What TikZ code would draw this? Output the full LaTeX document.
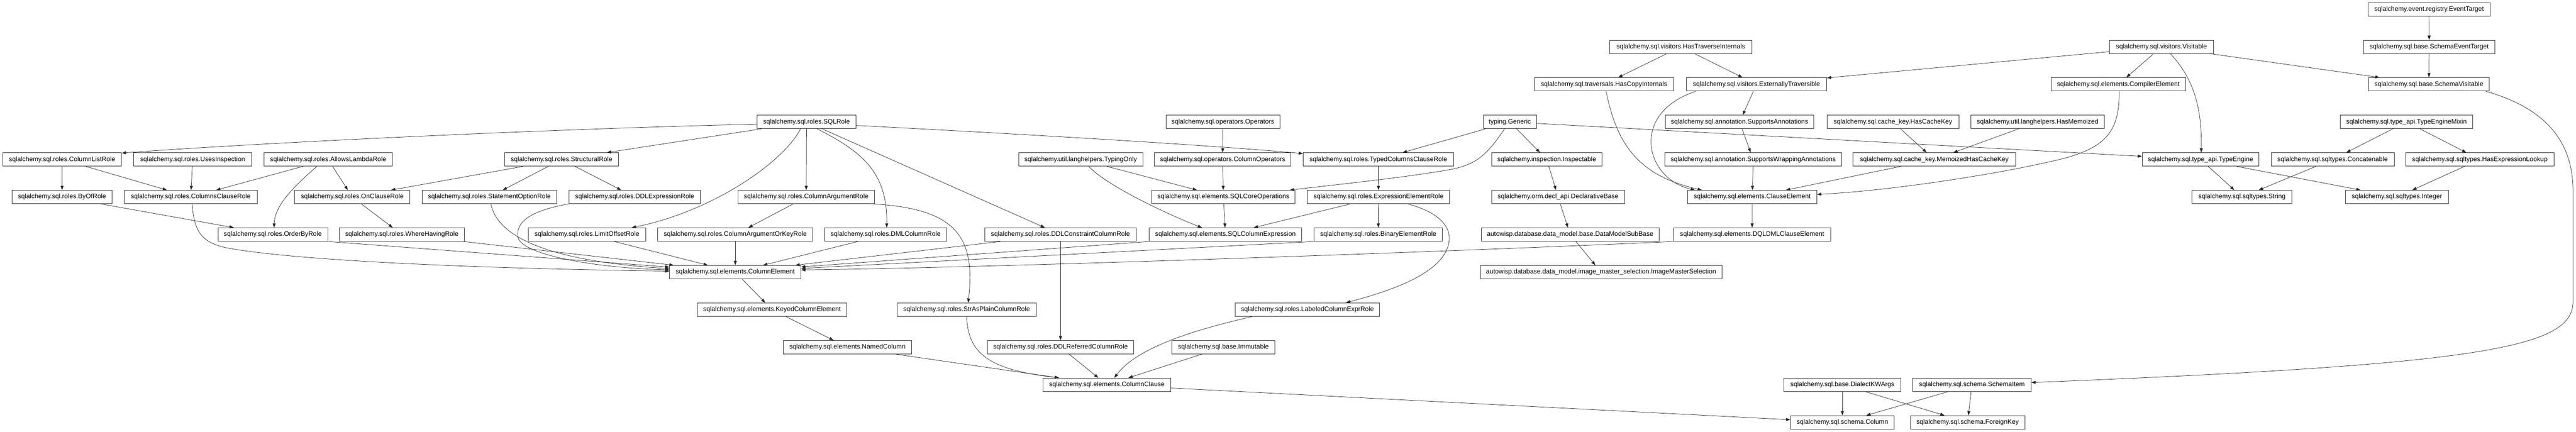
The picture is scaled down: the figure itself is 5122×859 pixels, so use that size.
\documentclass[tikz,border=0pt]{standalone}
\usepackage{fontspec}
\setmainfont{Liberation Sans}
\usetikzlibrary{arrows.meta}
\begin{document}
\begin{tikzpicture}[x=1pt,y=1pt,
  cls/.style={draw=black!80, line width=0.9pt, minimum height=26.7pt, inner xsep=1pt, inner ysep=0pt, font=\fontsize{13pt}{15pt}\selectfont},
  edge/.style={draw=black!85, line width=0.75pt, -{Triangle[length=8.5pt,width=6pt]}}]
\useasboundingbox (0,0) rectangle (5122,-859);
\fill[white] (0,0) rectangle (5122,-859);
% R0
\node[cls, minimum width=242pt] (evt) at (4829.8,-18.5) {sqlalchemy.event.registry.EventTarget};
% R1
\node[cls, minimum width=283pt] (hti) at (3342,-93.2) {sqlalchemy.sql.visitors.HasTraverseInternals};
\node[cls, minimum width=207pt] (vis) at (4297.8,-93.2) {sqlalchemy.sql.visitors.Visitable};
\node[cls, minimum width=261.4pt] (sevt) at (4830,-93.2) {sqlalchemy.sql.base.SchemaEventTarget};
% R2
\node[cls, minimum width=277pt] (hci) at (3189.3,-167.9) {sqlalchemy.sql.traversals.HasCopyInternals};
\node[cls, minimum width=279pt] (ext) at (3492.5,-167.9) {sqlalchemy.sql.visitors.ExternallyTraversible};
\node[cls, minimum width=267.7pt] (cel) at (4212,-167.9) {sqlalchemy.sql.elements.CompilerElement};
\node[cls, minimum width=240.3pt] (svi) at (4829.5,-167.9) {sqlalchemy.sql.base.SchemaVisitable};
% R3
\node[cls, minimum width=196.4pt] (sqlrole) at (1603.7,-242.6) {sqlalchemy.sql.roles.SQLRole};
\node[cls, minimum width=226.6pt] (ops) at (2431.5,-242.6) {sqlalchemy.sql.operators.Operators};
\node[cls, minimum width=105.4pt] (gen) at (3002,-242.6) {typing.Generic};
\node[cls, minimum width=296pt] (sann) at (3458.8,-242.6) {sqlalchemy.sql.annotation.SupportsAnnotations};
\node[cls, minimum width=262.2pt] (hck) at (3763.7,-242.6) {sqlalchemy.sql.cache\_key.HasCacheKey};
\node[cls, minimum width=266pt] (hmem) at (4051.4,-242.6) {sqlalchemy.util.langhelpers.HasMemoized};
\node[cls, minimum width=263pt] (tem) at (4784.8,-242.6) {sqlalchemy.sql.type\_api.TypeEngineMixin};
% R4
\node[cls, minimum width=236pt] (clr) at (123.5,-317.3) {sqlalchemy.sql.roles.ColumnListRole};
\node[cls, minimum width=234pt] (uin) at (383,-317.3) {sqlalchemy.sql.roles.UsesInspection};
\node[cls, minimum width=255pt] (alr) at (652.5,-317.3) {sqlalchemy.sql.roles.AllowsLambdaRole};
\node[cls, minimum width=226pt] (strl) at (1116.6,-317.3) {sqlalchemy.sql.roles.StructuralRole};
\node[cls, minimum width=246.8pt] (tyo) at (2148.7,-317.3) {sqlalchemy.util.langhelpers.TypingOnly};
\node[cls, minimum width=271.3pt] (cop) at (2431,-317.3) {sqlalchemy.sql.operators.ColumnOperators};
\node[cls, minimum width=299pt] (tccr) at (2740.6,-317.3) {sqlalchemy.sql.roles.TypedColumnsClauseRole};
\node[cls, minimum width=219.4pt] (insp) at (3075.5,-317.3) {sqlalchemy.inspection.Inspectable};
\node[cls, minimum width=351pt] (swa) at (3486,-317.3) {sqlalchemy.sql.annotation.SupportsWrappingAnnotations};
\node[cls, minimum width=323pt] (mhck) at (3846,-317.3) {sqlalchemy.sql.cache\_key.MemoizedHasCacheKey};
\node[cls, minimum width=232pt] (te) at (4375.5,-317.3) {sqlalchemy.sql.type\_api.TypeEngine};
\node[cls, minimum width=245pt] (conc) at (4638,-317.3) {sqlalchemy.sql.sqltypes.Concatenable};
\node[cls, minimum width=296pt] (hel) at (4930.8,-317.3) {sqlalchemy.sql.sqltypes.HasExpressionLookup};
% R5
\node[cls, minimum width=199.7pt] (byof) at (123.4,-392) {sqlalchemy.sql.roles.ByOfRole};
\node[cls, minimum width=263.8pt] (ccr) at (379.3,-392) {sqlalchemy.sql.roles.ColumnsClauseRole};
\node[cls, minimum width=229.3pt] (ocr) at (700.5,-392) {sqlalchemy.sql.roles.OnClauseRole};
\node[cls, minimum width=268pt] (sor) at (973,-392) {sqlalchemy.sql.roles.StatementOptionRole};
\node[cls, minimum width=262pt] (ddle) at (1262,-392) {sqlalchemy.sql.roles.DDLExpressionRole};
\node[cls, minimum width=270.7pt] (car) at (1603,-392) {sqlalchemy.sql.roles.ColumnArgumentRole};
\node[cls, minimum width=284.5pt] (sco) at (2432.5,-392) {sqlalchemy.sql.elements.SQLCoreOperations};
\node[cls, minimum width=283pt] (eer) at (2741,-392) {sqlalchemy.sql.roles.ExpressionElementRole};
\node[cls, minimum width=264.4pt] (decl) at (3098,-392) {sqlalchemy.orm.decl\_api.DeclarativeBase};
\node[cls, minimum width=257pt] (cle) at (3484,-392) {sqlalchemy.sql.elements.ClauseElement};
\node[cls, minimum width=198.5pt] (strg) at (4457.8,-392) {sqlalchemy.sql.sqltypes.String};
\node[cls, minimum width=204pt] (intg) at (4765.9,-392) {sqlalchemy.sql.sqltypes.Integer};
% R6
\node[cls, minimum width=218.3pt] (obr) at (542.5,-466.7) {sqlalchemy.sql.roles.OrderByRole};
\node[cls, minimum width=249pt] (whr) at (799,-466.7) {sqlalchemy.sql.roles.WhereHavingRole};
\node[cls, minimum width=233pt] (lor) at (1167,-466.7) {sqlalchemy.sql.roles.LimitOffsetRole};
\node[cls, minimum width=308.8pt] (caok) at (1462,-466.7) {sqlalchemy.sql.roles.ColumnArgumentOrKeyRole};
\node[cls, minimum width=243pt] (dml) at (1761,-466.7) {sqlalchemy.sql.roles.DMLColumnRole};
\node[cls, minimum width=301.7pt] (ddlc) at (2108.6,-466.7) {sqlalchemy.sql.roles.DDLConstraintColumnRole};
\node[cls, minimum width=303.6pt] (sce) at (2436.6,-466.7) {sqlalchemy.sql.elements.SQLColumnExpression};
\node[cls, minimum width=255pt] (ber) at (2740.5,-466.7) {sqlalchemy.sql.roles.BinaryElementRole};
\node[cls, minimum width=353.8pt] (dmsb) at (3122,-466.7) {autowisp.database.data\_model.base.DataModelSubBase};
\node[cls, minimum width=312pt] (dql) at (3483.8,-466.7) {sqlalchemy.sql.elements.DQLDMLClauseElement};
% R7
\node[cls, minimum width=261pt] (ce) at (1462,-541.4) {sqlalchemy.sql.elements.ColumnElement};
\node[cls, minimum width=480.3pt] (ims) at (3183.5,-541.4) {autowisp.database.data\_model.image\_master\_selection.ImageMasterSelection};
% R8
\node[cls, minimum width=297.8pt] (kce) at (1535,-616.1) {sqlalchemy.sql.elements.KeyedColumnElement};
\node[cls, minimum width=277pt] (sapc) at (1922,-616.1) {sqlalchemy.sql.roles.StrAsPlainColumnRole};
\node[cls, minimum width=287pt] (lcer) at (2599.6,-616.1) {sqlalchemy.sql.roles.LabeledColumnExprRole};
% R9
\node[cls, minimum width=255.5pt] (nc) at (1685,-690.8) {sqlalchemy.sql.elements.NamedColumn};
\node[cls, minimum width=291.8pt] (ddlr) at (2108.7,-690.8) {sqlalchemy.sql.roles.DDLReferredColumnRole};
\node[cls, minimum width=204.6pt] (imm) at (2432.6,-690.8) {sqlalchemy.sql.base.Immutable};
% R10
\node[cls, minimum width=254.5pt] (cc) at (2200.9,-765.5) {sqlalchemy.sql.elements.ColumnClause};
\node[cls, minimum width=232.6pt] (dkw) at (3663.3,-765.5) {sqlalchemy.sql.base.DialectKWArgs};
\node[cls, minimum width=235.3pt] (si) at (3920.8,-765.5) {sqlalchemy.sql.schema.SchemaItem};
% R11
\node[cls, minimum width=206.2pt] (col) at (3663.3,-840.2) {sqlalchemy.sql.schema.Column};
\node[cls, minimum width=227.1pt] (fk) at (3912.3,-840.2) {sqlalchemy.sql.schema.ForeignKey};

% edges
\draw[edge] ([yshift=-4.5pt]sqlrole.west) .. controls (1100,-256) and (500,-285) .. ([yshift=-1pt]clr.north east);
\draw[edge] (sqlrole) -- (strl);
\draw[edge] ([xshift=-12pt]sqlrole.south) .. controls (1560,-320) and (1420,-420) .. ([xshift=89pt]lor.north);
\draw[edge] (sqlrole) -- (car);
\draw[edge] ([xshift=21.3pt]sqlrole.south) .. controls (1710,-300) and (1765,-340) .. ([xshift=2pt]dml.north);
\draw[edge] (sqlrole) -- (ddlc);
\draw[edge] ([yshift=-7pt]sqlrole.east) .. controls (2000,-265) and (2400,-288) .. ([yshift=-2pt]tccr.north west);
\draw[edge] (clr) -- (byof);
\draw[edge] (clr) -- (ccr);
\draw[edge] (uin) -- (ccr);
\draw[edge] (alr) -- (ccr);
\draw[edge] ([xshift=-22.5pt]alr.south) .. controls (595,-362) and (546,-405) .. ([xshift=2.5pt]obr.north);
\draw[edge] (alr) -- (ocr);
\draw[edge] (strl) -- (ocr);
\draw[edge] (strl) -- (sor);
\draw[edge] (strl) -- (ddle);
\draw[edge] (byof) -- (obr);
\draw[edge] (ocr) -- (whr);
\draw[edge] ([xshift=2.7pt]ccr.south) .. controls (386,-460) and (400,-482) .. (450,-493) .. controls (600,-521) and (1000,-535) .. ([yshift=2pt]ce.west);
\draw[edge] (obr.south east) -- ([yshift=10pt]ce.west);
\draw[edge] (whr) -- (ce);
\draw[edge] ([xshift=3pt]sor.south) .. controls (990,-475) and (1100,-520) .. ([yshift=7pt]ce.west);
\draw[edge] (ddle.south west) .. controls (1060,-418) and (1024,-440) .. (1030,-472) .. controls (1036,-506) and (1180,-533) .. ([yshift=4.5pt]ce.west);
\draw[edge] (lor) -- (ce);
\draw[edge] (caok) -- (ce);
\draw[edge] (dml) -- (ce);
\draw[edge] (ddlc) -- (ce);
\draw[edge] (sce.south west) -- ([yshift=10.4pt]ce.east);
\draw[edge] (ber.south west) -- ([yshift=7.4pt]ce.east);
\draw[edge] (dql.south west) .. controls (2900,-500) and (2000,-532) .. ([yshift=4.4pt]ce.east);
\draw[edge] (car) -- (caok);
\draw[edge] ([xshift=-2.7pt]car.south east) .. controls (1900,-415) and (1940,-470) .. ([xshift=3pt]sapc.north);
\draw[edge] (ops) -- (cop);
\draw[edge] (cop) -- (sco);
\draw[edge] (tyo) -- (sco);
\draw[edge] ([xshift=16.3pt]tyo.south) .. controls (2200,-370) and (2330,-430) .. ([xshift=-46.6pt]sce.north);
\draw[edge] (sco) -- (sce);
\draw[edge] ([xshift=-10.4pt]gen.south) .. controls (2955,-310) and (2935,-328) .. (2880,-338) .. controls (2780,-355) and (2650,-368) .. ([xshift=-11pt]sco.north east);
\draw[edge] (gen) -- (tccr);
\draw[edge] (gen) -- (insp);
\draw[edge] (gen) -- (te);
\draw[edge] (tccr) -- (eer);
\draw[edge] (eer) -- (sce);
\draw[edge] (eer) -- (ber);
\draw[edge] ([xshift=58.6pt]eer.south) .. controls (2870,-425) and (2895,-460) .. (2875,-500) .. controls (2850,-550) and (2760,-580) .. ([xshift=76.4pt]lcer.north);
\draw[edge] (insp) -- (decl);
\draw[edge] (decl) -- (dmsb);
\draw[edge] (dmsb) -- (ims);
\draw[edge] (hti) -- (hci);
\draw[edge] (hti) -- (ext);
\draw[edge] (vis) -- (ext);
\draw[edge] (vis) -- (cel);
\draw[edge] ([xshift=17.8pt]vis.south) .. controls (4365,-160) and (4378,-220) .. ([xshift=1.3pt]te.north);
\draw[edge] (vis) -- (svi);
\draw[edge] ([xshift=4.2pt]hci.south) .. controls (3215,-290) and (3260,-350) .. ([xshift=-100pt]cle.north);
\draw[edge] (ext) -- (sann);
\draw[edge] ([xshift=-120.8pt]ext.south) .. controls (3240,-225) and (3270,-355) .. ([xshift=-114pt]cle.north);
\draw[edge] (sann) -- (swa);
\draw[edge] (swa) -- (cle);
\draw[edge] (hck) -- (mhck);
\draw[edge] (hmem) -- (mhck);
\draw[edge] (mhck) -- (cle);
\draw[edge] ([xshift=1.5pt]cel.south) .. controls (4215,-270) and (4180,-300) .. (4070,-323) .. controls (3950,-350) and (3750,-380) .. ([yshift=5.3pt]cle.east);
\draw[edge] (cle) -- (dql);
\draw[edge] (evt) -- (sevt);
\draw[edge] (sevt) -- (svi);
\draw[edge] ([xshift=-7.3pt]svi.south east) .. controls (5060,-215) and (5116,-280) .. (5116,-380) -- (5116,-600) .. controls (5116,-690) and (4950,-725) .. ([yshift=4.5pt]si.east);
\draw[edge] (tem) -- (conc);
\draw[edge] (tem) -- (hel);
\draw[edge] (te) -- (strg);
\draw[edge] (te) -- (intg);
\draw[edge] (conc) -- (strg);
\draw[edge] (hel) -- (intg);
\draw[edge] (ce) -- (kce);
\draw[edge] (kce) -- (nc);
\draw[edge] (nc) -- (cc);
\draw[edge] (sapc.south) .. controls (1925,-700) and (1960,-735) .. ([xshift=-95pt]cc.north);
\draw[edge] (ddlc) -- (ddlr);
\draw[edge] (ddlr) -- (cc);
\draw[edge] (imm) -- (cc);
\draw[edge] ([xshift=34pt]lcer.south west) .. controls (2380,-655) and (2262,-690) .. ([xshift=14.7pt]cc.north);
\draw[edge] (cc) -- (col);
\draw[edge] (dkw) -- (col);
\draw[edge] (dkw) -- (fk);
\draw[edge] (si) -- (col);
\draw[edge] (si) -- (fk);
\end{tikzpicture}
\end{document}
